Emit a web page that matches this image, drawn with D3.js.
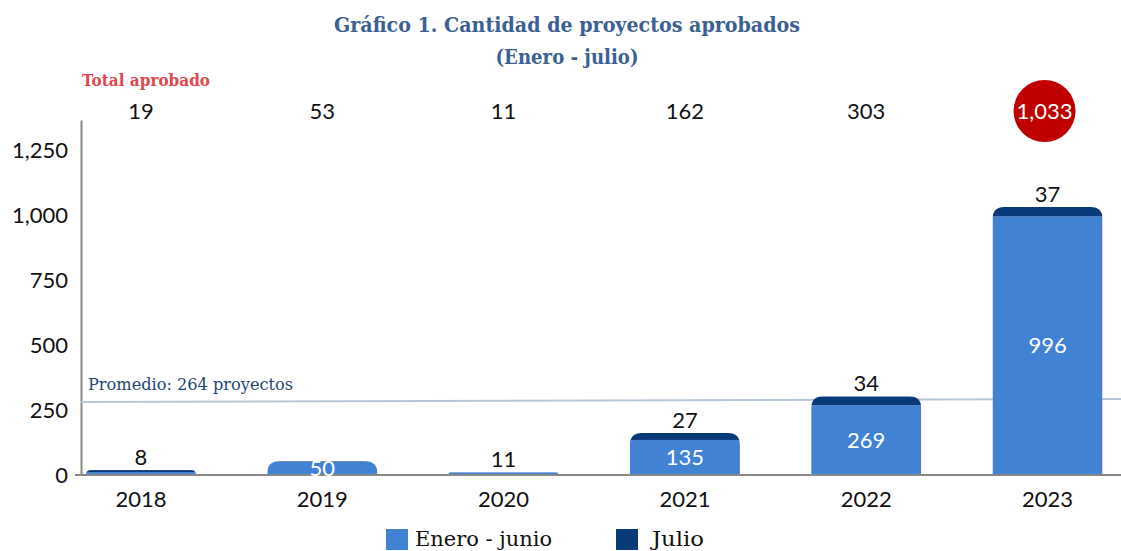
<!DOCTYPE html>
<html><head><meta charset="utf-8">
<script src="https://cdn.jsdelivr.net/npm/d3@7"></script>
<style>body{margin:0;background:#fff}svg{display:block}</style>
</head><body><svg id="c" width="1121" height="551"></svg>
<script>
const years = ["2018","2019","2020","2021","2022","2023"];
const eneroJunio = [11, 50, 11, 135, 269, 996];
const julio = [8, 3, 0, 27, 34, 37];
const totals = [19, 53, 11, 162, 303, 1033];
const topLabels = ["8", "", "11", "27", "34", "37"];
const innerLabels = ["", "50", "", "135", "269", "996"];
const yTicks = [0, 250, 500, 750, 1000, 1250];
const promedioText = "Promedio: 264 proyectos";
const promedioLine = [281, 293]; // drawn level at left / right end
const highlightYear = "2023";

const LIGHT = "#4282d5", DARK = "#083a7a", SERIF = "'DejaVu Serif', serif", SANS = "Lato, sans-serif";
const svg = d3.select("#c");
const y = d3.scaleLinear().domain([0, 1368]).range([475, 120]);
const x = d3.scaleBand().domain(years).range([14.7, 1173.8]).paddingInner(0.393).paddingOuter(0.393);
const fmt = d3.format(",");

// title
svg.append("text").attr("x", 567).attr("y", 32).attr("text-anchor","middle")
  .attr("font-family", SERIF).attr("font-weight","bold").attr("font-size", 20).attr("fill","#3b6194")
  .attr("textLength", 466).attr("lengthAdjust","spacingAndGlyphs")
  .text("Gráfico 1. Cantidad de proyectos aprobados");
svg.append("text").attr("x", 567).attr("y", 64).attr("text-anchor","middle")
  .attr("font-family", SERIF).attr("font-weight","bold").attr("font-size", 20).attr("fill","#3b6194")
  .attr("textLength", 143).attr("lengthAdjust","spacingAndGlyphs")
  .text("(Enero - julio)");

svg.append("text").attr("x", 82).attr("y", 86)
  .attr("font-family", SERIF).attr("font-weight","bold").attr("font-size", 16).attr("fill","#e0474c")
  .attr("textLength", 128).attr("lengthAdjust","spacingAndGlyphs")
  .text("Total aprobado");

// y axis
const yAxis = d3.axisLeft(y).tickValues(yTicks).tickFormat(fmt).tickSize(0).tickPadding(13);
const gy = svg.append("g").attr("transform","translate(81,0)").call(yAxis);
gy.select(".domain").attr("stroke","#888").attr("stroke-width",2);
gy.selectAll("text").attr("font-family", SANS).attr("font-size", 22).attr("fill","#111");

// average line
svg.append("line").attr("x1", 81).attr("x2", 1121)
  .attr("y1", y(promedioLine[0])).attr("y2", y(promedioLine[1]))
  .attr("stroke","#b8c7d8").attr("stroke-width",2);
svg.append("text").attr("x", 88).attr("y", y(promedioLine[0]) - 12)
  .attr("font-family", SERIF).attr("font-size", 16).attr("fill","#1f4678")
  .attr("textLength", 205).attr("lengthAdjust","spacingAndGlyphs")
  .text(promedioText);

// bars
const R = 12;
function roundTop(x0, w, yTop, yBase) {
  const h = yBase - yTop; const r = Math.min(R, h, w/2);
  return `M${x0},${yBase} L${x0},${yTop + r} Q${x0},${yTop} ${x0 + r},${yTop} L${x0 + w - r},${yTop} Q${x0 + w},${yTop} ${x0 + w},${yTop + r} L${x0 + w},${yBase} Z`;
}
const defs = svg.append("defs");
years.forEach((yr, i) => {
  const x0 = x(yr), w = x.bandwidth();
  defs.append("clipPath").attr("id","clip"+i).append("path").attr("d", roundTop(x0, w, y(totals[i]), y(0)));
  const g = svg.append("g").attr("clip-path", `url(#clip${i})`);
  g.append("rect").attr("x", x0).attr("width", w).attr("y", y(eneroJunio[i])).attr("height", y(0) - y(eneroJunio[i])).attr("fill", LIGHT);
  g.append("rect").attr("x", x0).attr("width", w).attr("y", y(eneroJunio[i] + julio[i])).attr("height", y(eneroJunio[i]) - y(eneroJunio[i] + julio[i])).attr("fill", DARK);
});

// x axis
const xAxis = d3.axisBottom(x).tickSize(0).tickPadding(16);
const gx = svg.append("g").attr("transform","translate(0,475)").call(xAxis);
gx.select(".domain").remove();
svg.append("line").attr("x1", 75).attr("x2", 1121).attr("y1", 475).attr("y2", 475).attr("stroke","#888").attr("stroke-width",2);
gx.selectAll("text").attr("font-family", SANS).attr("font-size", 22).attr("fill","#111");

// labels
years.forEach((yr, i) => {
  const cx = x(yr) + x.bandwidth()/2;
  if (topLabels[i]) svg.append("text").attr("x", cx).attr("y", y(totals[i]) - 13).attr("dy","0.35em")
    .attr("text-anchor","middle").attr("font-family", SANS).attr("font-size", 22).attr("fill","#111").text(topLabels[i]);
  if (innerLabels[i]) svg.append("text").attr("x", cx).attr("y", (y(0) + y(eneroJunio[i]))/2).attr("dy","0.35em")
    .attr("text-anchor","middle").attr("font-family", SANS).attr("font-size", 22).attr("fill","#fff").text(innerLabels[i]);
  // totals row
  if (yr === highlightYear) svg.append("circle").attr("cx", cx - 3).attr("cy", 111).attr("r", 31).attr("fill", "#c00000");
  svg.append("text").attr("x", yr === highlightYear ? cx - 3 : cx).attr("y", 111).attr("dy","0.35em")
    .attr("text-anchor","middle").attr("font-family", SANS).attr("font-size", 22)
    .attr("fill", yr === highlightYear ? "#fff" : "#111").text(fmt(totals[i]));
});

// legend
const legend = [["Enero - junio", LIGHT, 386], ["Julio", DARK, 616]];
legend.forEach(([t, c, lx]) => {
  svg.append("rect").attr("x", lx).attr("y", 529).attr("width", 22).attr("height", 21).attr("fill", c);
  svg.append("text").attr("x", lx + (t === "Julio" ? 36 : 29)).attr("y", 546)
    .attr("font-family", SERIF).attr("font-size", 20).attr("fill","#111")
    .attr("textLength", t === "Julio" ? 52 : 137).attr("lengthAdjust","spacingAndGlyphs").text(t);
});
</script></body></html>
